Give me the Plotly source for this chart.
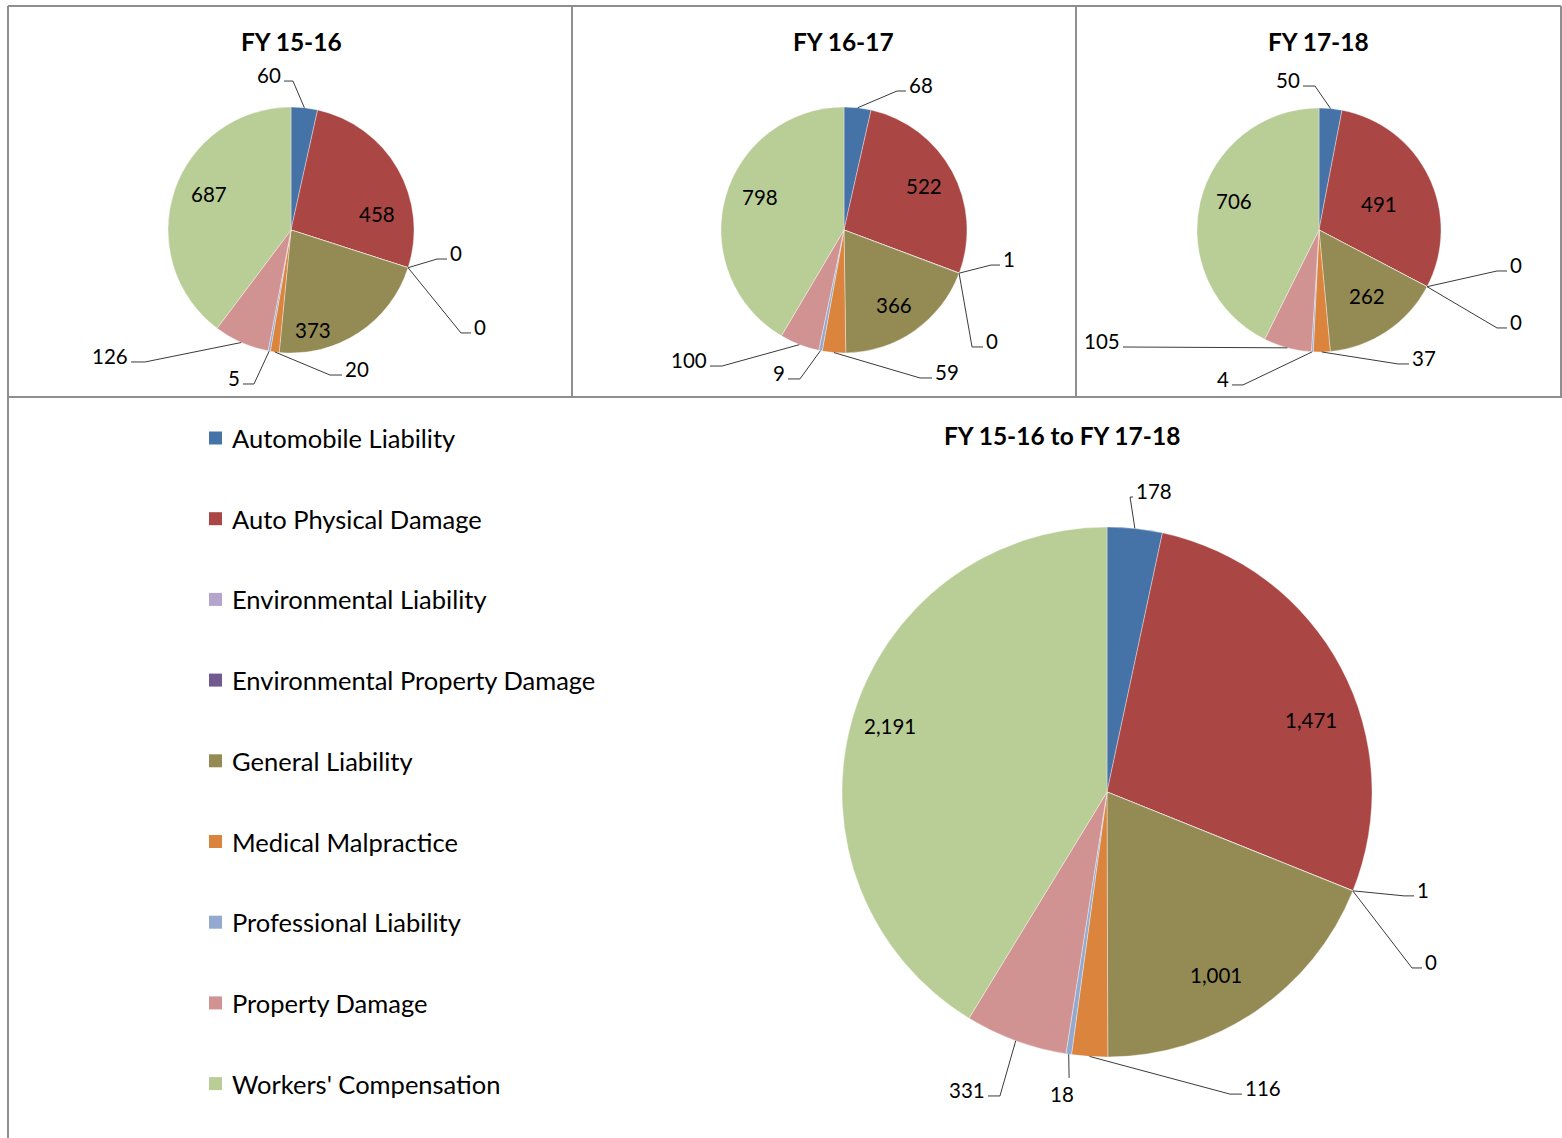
import math
import plotly.graph_objects as go

# ---------------- data ----------------
categories = [
    "Automobile Liability",
    "Auto Physical Damage",
    "Environmental Liability",
    "Environmental Property Damage",
    "General Liability",
    "Medical Malpractice",
    "Professional Liability",
    "Property Damage",
    "Workers' Compensation",
]
fy_15_16 = [60, 458, 0, 0, 373, 20, 5, 126, 687]
fy_16_17 = [68, 522, 1, 0, 366, 59, 9, 100, 798]
fy_17_18 = [50, 491, 0, 0, 262, 37, 4, 105, 706]
fy_total = [178, 1471, 1, 0, 1001, 116, 18, 331, 2191]
titles = ["FY 15-16", "FY 16-17", "FY 17-18", "FY 15-16 to FY 17-18"]

# ---------------- style ----------------
colors = ["#4572A7", "#AA4643", "#B5A4CB", "#72598F", "#948A54",
          "#DB843D", "#93A9D0", "#D19392", "#B9CD96"]
W, H = 1562, 1138
FONT = "Lato"
LINE_COL = "#3a3a3a"
BORDER_COL = "#8e8e8e"

# pie geometry (screen pixels): centre x, centre y, radius, title centre
pies = [
    dict(values=fy_15_16, cx=291, cy=230, r=123, tx=291, ty=41),
    dict(values=fy_16_17, cx=844, cy=230, r=123, tx=843, ty=41),
    dict(values=fy_17_18, cx=1319, cy=230, r=122, tx=1318, ty=41),
    dict(values=fy_total, cx=1107, cy=792, r=265, tx=1062, ty=435),
]

# label placement per slice, in units of the pie radius relative to centre
# ("in", ux, uy) inside label; ("out", ex, ey, tail_px) leader elbow + horizontal tail
label_layouts = [
    [("out", 0.016, -1.211, -9), ("in", 0.70, -0.13), ("out", 1.187, 0.236, 10),
     ("out", 1.382, 0.837, 10), ("in", 0.18, 0.81), ("out", 0.317, 1.179, 12),
     ("out", -0.301, 1.252, -11), ("out", -1.187, 1.073, -14), ("in", -0.67, -0.29)],
    [("out", 0.431, -1.130, 9), ("in", 0.65, -0.36), ("out", 1.195, 0.285, 9),
     ("out", 1.041, 0.951, 11), ("in", 0.41, 0.61), ("out", 0.618, 1.203, 12),
     ("out", -0.358, 1.211, -12), ("out", -0.992, 1.106, -12), ("in", -0.68, -0.27)],
    [("out", -0.033, -1.180, -12), ("in", 0.49, -0.21), ("out", 1.459, 0.336, 10),
     ("out", 1.459, 0.803, 10), ("in", 0.39, 0.54), ("out", 0.648, 1.098, 11),
     ("out", -0.623, 1.270, -11), ("out", -1.607, 0.959, 0), ("in", -0.70, -0.24)],
    [("out", 0.087, -1.113, 3), ("in", 0.77, -0.27), ("out", 1.121, 0.392, 10),
     ("out", 1.151, 0.664, 10), ("in", 0.41, 0.69), ("out", 0.464, 1.140, 12),
     ("below", -0.143, 1.079, 0), ("out", -0.404, 1.147, -12), ("in", -0.82, -0.25)],
]


def px(x):
    return x / W


def py(y):
    return 1 - y / H


fig = go.Figure()
shapes = []
annotations = []

for p, title, lay in zip(pies, titles, label_layouts):
    cx, cy, r = p["cx"], p["cy"], p["r"]
    fig.add_trace(go.Pie(
        labels=categories, values=p["values"], sort=False,
        direction="clockwise", rotation=0,
        marker=dict(colors=colors, line=dict(color="rgba(255,255,255,0.6)", width=0.6)),
        textinfo="none", textposition="none", showlegend=False,
        domain=dict(x=[px(cx - r), px(cx + r)], y=[py(cy + r), py(cy - r)]),
        hoverinfo="label+value",
    ))
    annotations.append(dict(
        x=px(p["tx"]), y=py(p["ty"]), xref="paper", yref="paper",
        text="<b>%s</b>" % title, showarrow=False, xanchor="center", yanchor="middle",
        font=dict(family=FONT, size=24.5, color="#000000"),
    ))
    total = sum(p["values"])
    cum = 0
    for v, spec in zip(p["values"], lay):
        a0 = cum / total * 360
        cum += v
        a1 = cum / total * 360
        mid = math.radians((a0 + a1) / 2)
        label = f"{v:,}"
        if spec[0] == "in":
            lx, ly = cx + spec[1] * r, cy + spec[2] * r
            annotations.append(dict(
                x=px(lx), y=py(ly), xref="paper", yref="paper", text=label,
                showarrow=False, xanchor="center", yanchor="middle",
                font=dict(family=FONT, size=20.5, color="#000000")))
            continue
        kind, ex, ey, tail = spec
        ax, ay = cx + r * math.sin(mid), cy - r * math.cos(mid)
        exx, eyy = cx + ex * r, cy + ey * r
        shapes.append(dict(type="line", xref="paper", yref="paper",
                           x0=px(ax), y0=py(ay), x1=px(exx), y1=py(eyy),
                           line=dict(color=LINE_COL, width=1)))
        if kind == "below":
            annotations.append(dict(
                x=px(exx - 7), y=py(eyy + 2), xref="paper", yref="paper", text=label,
                showarrow=False, xanchor="center", yanchor="top",
                font=dict(family=FONT, size=20.5, color="#000000")))
            continue
        txx = exx + tail
        if tail != 0:
            shapes.append(dict(type="line", xref="paper", yref="paper",
                               x0=px(exx), y0=py(eyy), x1=px(txx), y1=py(eyy),
                               line=dict(color=LINE_COL, width=1)))
        right = tail > 0 or (tail == 0 and ex > 0)
        annotations.append(dict(
            x=px(txx + (1 if right else -1)), y=py(eyy - 6), xref="paper", yref="paper",
            text=label, showarrow=False,
            xanchor="left" if right else "right", yanchor="middle",
            font=dict(family=FONT, size=20.5, color="#000000")))

# custom legend (bottom-left panel)
leg_x, leg_y0, leg_dy, sq = 209, 438, 80.7, 13
for i, (cat, col) in enumerate(zip(categories, colors)):
    yc = leg_y0 + i * leg_dy
    shapes.append(dict(type="rect", xref="paper", yref="paper",
                       x0=px(leg_x), x1=px(leg_x + sq), y0=py(yc + sq / 2), y1=py(yc - sq / 2),
                       fillcolor=col, line=dict(width=0)))
    annotations.append(dict(
        x=px(leg_x + sq + 8), y=py(yc), xref="paper", yref="paper", text=cat,
        showarrow=False, xanchor="left", yanchor="middle",
        font=dict(family=FONT, size=25.5, color="#000000")))

# panel borders (screen pixels)
for (x0, y0, x1, y1) in [
    (8, 6, 1561, 6), (8, 6, 8, 1138), (1561, 6, 1561, 397), (8, 397, 1562, 397),
    (572, 6, 572, 397), (1076, 6, 1076, 397),
]:
    shapes.append(dict(type="line", xref="paper", yref="paper",
                       x0=px(x0), y0=py(y0), x1=px(x1), y1=py(y1),
                       line=dict(color=BORDER_COL, width=2)))

fig.update_layout(
    width=W, height=H,
    margin=dict(l=0, r=0, t=0, b=0),
    paper_bgcolor="white", plot_bgcolor="white",
    shapes=shapes, annotations=annotations,
    font=dict(family=FONT),
)

fig.write_html(
    "out.html",
    config={"displayModeBar": False},
    post_script="document.body.style.margin='0';document.body.style.overflow='hidden';",
)
